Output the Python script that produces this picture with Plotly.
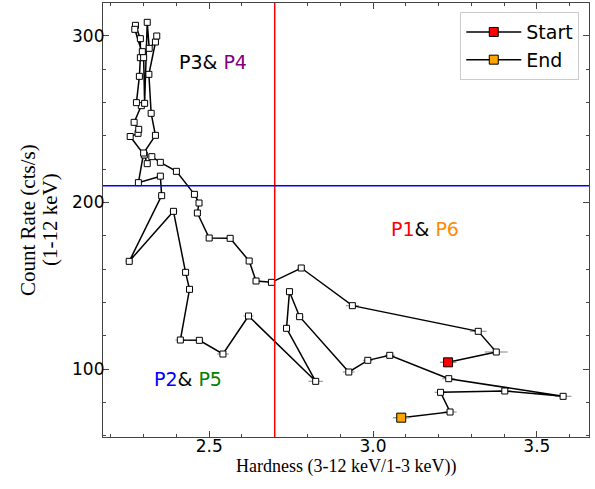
import plotly.graph_objects as go

# Hardness-intensity track (time ordered, from Start to End)
hardness = [3.229, 3.376, 3.321, 2.937, 2.781, 2.690, 2.643, 2.622, 2.564, 2.500,
            2.464, 2.469, 2.455, 2.400, 2.351, 2.325, 2.311, 2.302, 2.259, 2.283,
            2.285, 2.271, 2.293, 2.278, 2.287, 2.290, 2.290, 2.275, 2.273, 2.296,
            2.300, 2.303, 2.311, 2.317, 2.336, 2.340, 2.316, 2.323, 2.336, 2.300,
            2.284, 2.351, 2.355, 2.256, 2.391, 2.428, 2.440, 2.412, 2.470, 2.542,
            2.620, 2.825, 2.736, 2.745, 2.776, 2.926, 2.984, 3.051, 3.231, 3.580,
            3.402, 3.206, 3.235, 3.086]
count_rate = [104.0, 110.2, 122.6, 138.0, 160.6, 152.0, 152.8, 164.8, 178.4, 178.6,
              193.6, 199.6, 204.8, 218.6, 224.0, 227.4, 223.2, 228.4, 239.5, 241.4,
              243.8, 248.0, 258.0, 259.8, 275.6, 286.8, 298.2, 306.2, 303.8, 290.4,
              286.8, 259.4, 308.0, 292.4, 296.2, 299.8, 276.8, 253.4, 240.2, 229.6,
              211.8, 215.7, 204.0, 164.6, 194.6, 158.0, 147.8, 117.4, 117.2, 109.0,
              131.8, 92.6, 124.4, 146.4, 131.4, 98.2, 105.2, 108.2, 94.2, 83.6,
              86.8, 86.0, 74.2, 70.8]
hardness_err = [0.025, 0.035, 0.025, 0.020, 0.012, 0.012, 0.010, 0.010, 0.012, 0.010,
                0.010, 0.008, 0.008, 0.008, 0.006, 0.006, 0.006, 0.006, 0.006, 0.006,
                0.006, 0.006, 0.006, 0.006, 0.006, 0.006, 0.006, 0.006, 0.006, 0.006,
                0.006, 0.006, 0.006, 0.006, 0.006, 0.006, 0.006, 0.006, 0.006, 0.006,
                0.006, 0.006, 0.008, 0.012, 0.012, 0.008, 0.008, 0.015, 0.012, 0.018,
                0.015, 0.022, 0.010, 0.010, 0.012, 0.018, 0.015, 0.015, 0.020, 0.025,
                0.020, 0.018, 0.020, 0.025]

hard_cut = 2.7
rate_cut = 210

fig = go.Figure()

fig.add_trace(go.Scatter(
    x=hardness, y=count_rate, mode="lines+markers",
    line=dict(color="black", width=1.5),
    marker=dict(symbol="square", size=6, color="white", line=dict(color="black", width=1)),
    error_x=dict(type="data", array=hardness_err, color="#999999", thickness=1.2, width=0),
    showlegend=False, hoverinfo="skip"))

fig.add_trace(go.Scatter(
    x=[hardness[0]], y=[count_rate[0]], mode="lines+markers", name="Start",
    line=dict(color="black", width=1.5),
    marker=dict(symbol="square", size=9, color="red", line=dict(color="black", width=1)),
    error_x=dict(type="data", array=[hardness_err[0]], color="#999999", thickness=1.2, width=0)))

fig.add_trace(go.Scatter(
    x=[hardness[-1]], y=[count_rate[-1]], mode="lines+markers", name="End",
    line=dict(color="black", width=1.5),
    marker=dict(symbol="square", size=9, color="orange", line=dict(color="black", width=1)),
    error_x=dict(type="data", array=[hardness_err[-1]], color="#999999", thickness=1.2, width=0)))

fig.add_shape(type="line", xref="x", yref="paper", x0=hard_cut, x1=hard_cut, y0=0, y1=1,
              line=dict(color="red", width=1.5))
fig.add_shape(type="line", xref="paper", yref="y", x0=0, x1=1, y0=rate_cut, y1=rate_cut,
              line=dict(color="blue", width=1.5))

lab_font = dict(family="DejaVu Sans", size=19, color="black")
fig.add_annotation(x=2.512, y=284, xref="x", yref="y", showarrow=False, font=lab_font,
                   xanchor="center", yanchor="middle",
                   text="P3& <span style='color:purple'>P4</span>")
fig.add_annotation(x=3.16, y=184, xref="x", yref="y", showarrow=False, font=lab_font,
                   xanchor="center", yanchor="middle",
                   text="<span style='color:red'>P1</span>& <span style='color:darkorange'>P6</span>")
fig.add_annotation(x=2.436, y=94, xref="x", yref="y", showarrow=False, font=lab_font,
                   xanchor="center", yanchor="middle",
                   text="<span style='color:blue'>P2</span>& <span style='color:green'>P5</span>")

# axis titles
title_font = dict(family="Liberation Serif", size=21, color="black")
fig.add_annotation(x=0.5, y=-0.069, xref="paper", yref="paper", showarrow=False,
                   xanchor="center", yanchor="middle",
                   text="Hardness (3-12 keV/1-3 keV))",
                   font=dict(family="Liberation Serif", size=18, color="black"))
fig.add_annotation(x=-0.1543, y=0.5, xref="paper", yref="paper", showarrow=False,
                   xanchor="center", yanchor="middle", textangle=-90,
                   text="Count Rate (cts/s)", font=title_font)
fig.add_annotation(x=-0.109, y=0.5, xref="paper", yref="paper", showarrow=False,
                   xanchor="center", yanchor="middle", textangle=-90,
                   text="(1-12 keV)", font=title_font)

axis_common = dict(showline=True, linecolor="#444444", linewidth=1.2, mirror="allticks",
                   ticks="inside", ticklen=6, tickcolor="#444444", showgrid=False, zeroline=False,
                   automargin=False,
                   tickfont=dict(family="DejaVu Sans", size=17, color="black"))

fig.update_xaxes(range=[2.176, 3.659], dtick=0.5, tick0=2.5, tickformat=".1f",
                 ticklabelstandoff=-7,
                 minor=dict(ticks="inside", dtick=0.1, ticklen=3, tickcolor="#444444"),
                 **axis_common)
fig.update_yaxes(range=[59.2, 319.6], dtick=100, tick0=0,
                 ticklabelstandoff=-6,
                 minor=dict(ticks="inside", dtick=20, ticklen=3, tickcolor="#444444"),
                 **axis_common)

fig.update_layout(
    width=595, height=489,
    margin=dict(l=103, r=6, t=3, b=52, autoexpand=False),
    plot_bgcolor="white", paper_bgcolor="white",
    legend=dict(x=0.98, y=0.979, xanchor="right", yanchor="top",
                bgcolor="white", bordercolor="#cccccc", borderwidth=1,
                font=dict(family="DejaVu Sans", size=19, color="black"),
                itemwidth=55),
)

fig.write_html("out.html", config={"displayModeBar": False},
               post_script="document.body.style.margin='0';document.body.style.padding='0';")
